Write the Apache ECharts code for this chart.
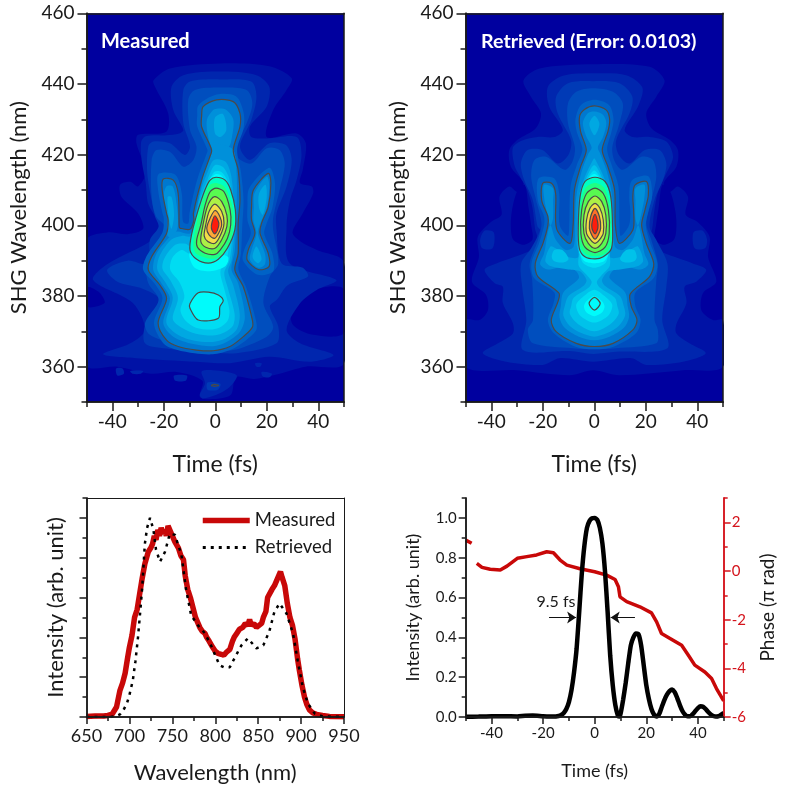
<!DOCTYPE html>
<html>
<head>
<meta charset="utf-8">
<title>FROG traces</title>
<script src="https://cdn.jsdelivr.net/npm/echarts@6/dist/echarts.min.js"></script>
<style>
  html, body { margin: 0; padding: 0; background: #fff; }
  #main { width: 785px; height: 791px; }
</style>
</head>
<body>
<div id="main"></div>
<script>
// colour of each contour band, low to high
var bandColors = ['#00009f', '#0012a6', '#0026ae', '#003ab6', '#004ebe', '#0062c6', '#0078d0', '#0090da', '#00a8e2', '#00c2ea', '#00dcf2', '#00fbfb', '#00ffc4', '#20ff84', '#58fa50', '#acf046', '#f4dc48', '#ffa838', '#ff7028', '#ff1c0c'];

var timeMajor = [-40, -20, 0, 20, 40];
var timeMinor = [-50, -30, -10, 10, 30, 50];
var shgMajor = [360, 380, 400, 420, 440, 460];
var shgMinor = [350, 370, 390, 410, 430, 450];
var wlMajor = [650, 700, 750, 800, 850, 900, 950];
var wlMinor = [675, 725, 775, 825, 875, 925];
var specMajor = [0, 0.2, 0.4, 0.6, 0.8, 1.0];
var specMinor = [0.1, 0.3, 0.5, 0.7, 0.9, 1.1];
var phaseMajor = [-6, -4, -2, 0, 2];
var phaseMinor = [-5, -3, -1, 1, 3];

// --- measured trace, contour lines as [time, wavelength]
var mMain = [[0.5,435.5],[7,435],[9.6,431.7],[9.6,427.9],[7,421.3],[8.9,415.7],[9.6,407.2],[8.9,400.6],[8.9,392],[7.6,387.4],[10.9,382.6],[14.1,374.2],[14.5,371.3],[10.9,368.5],[5.7,365.7],[-0.8,364.5],[-7.3,364.7],[-14.4,365.7],[-18.9,367.5],[-22.2,372.3],[-18.9,379.3],[-21.5,383.1],[-26,387.4],[-24.7,391.1],[-18.9,397.7],[-18.3,401.5],[-18.9,403.4],[-20.6,410],[-20.2,413.1],[-16.3,412.8],[-14.4,409],[-14,399.6],[-13.7,399.2],[-9.8,398.9],[-8.3,401.5],[-8.5,403.4],[-5.3,412.8],[-2.1,419.4],[-1.4,421.3],[-5.3,427.9],[-5.3,430.8],[-4.7,433.6]];
var mRightLobe = [[14.1,405.3],[14.8,410],[20.6,414.7],[21.6,411.9],[20.6,405.3],[18,400.6],[17.4,397.7],[20.6,392],[20.9,388.3],[16.7,387.5],[12.4,390.2],[12.8,393],[15.4,397.7],[14.1,401.5]];
var mBlob = [[-9.8,377.9],[-6.6,380.9],[-2.7,381.1],[1.2,380.3],[3.1,378.7],[1.8,377],[1.2,373.7],[-6.6,373.2],[-9.8,376.5]];
var mLineA = [[0.3,413.6],[3.8,412.8],[6,410],[7.8,404.4],[7.6,398.7],[4.7,393.5],[1.2,390.4],[-2.7,389.3],[-7.2,390.4],[-9.8,393],[-9.1,397.7],[-6.6,404.4],[-4,410],[-2,412.8]];
var mLineB = [[0.3,410.5],[3.4,409.5],[5.8,404.3],[6,400.1],[4.7,396.3],[1.9,393],[-0.1,391.8],[-3.9,392.1],[-6.9,393.8],[-7.2,395.9],[-5.6,400.1],[-3.9,405.8],[-2,409.5]];
var mLineC = [[-0.1,408.1],[2.5,406.7],[4.5,402.9],[4.5,399.6],[2.5,395.9],[-0.1,393.5],[-3.7,393.8],[-5.6,395.4],[-5,399.2],[-3.3,404.8],[-1.8,407.2]];
var mLineD = [[-0.1,406],[2.5,403.9],[3.4,400.6],[2.1,397.3],[-0.1,394.9],[-2.9,395.4],[-4.3,397],[-3.7,400.1],[-2.4,403.9]];
var mLineE = [[-0.1,404.2],[1.9,402.3],[2.5,400.1],[1.2,397.6],[-0.3,396.3],[-2.4,397.3],[-3.3,399.2],[-2,402]];
var mLineF = [[-0.1,402.7],[1.4,400.6],[0.8,398.5],[-0.3,397.6],[-1.5,399.2],[-1.2,401]];
var mSpot = [[-1.5,354.7],[-0.3,355],[1.3,354.7],[-0.3,354.4]];
var measuredLines = [mMain, mRightLobe, mBlob, mLineA, mLineB, mLineC, mLineD, mLineE, mLineF, mSpot];

// [band, outline] painted in this order
var measuredFills = [
  [1, [[-24,441],[-17.6,444.4],[1.8,445.8],[21,445],[29.7,441.6],[27.7,438.3],[22.5,432.6],[20,425],[31.6,426],[35.2,423.2],[34,415.7],[32.9,412],[37.5,411],[38,409],[34,403.4],[30,398],[33,395.5],[39.5,393],[50,389.5],[50,361],[35,360],[25,358],[15,356.5],[8,357],[6,352],[-2,350.8],[-6,351.5],[-5,356],[-15,358.5],[-25,358],[-38,360],[-50,360.5],[-50,395.8],[-42,398],[-34,397.5],[-28,399],[-30,403.4],[-36.4,408],[-37,411.4],[-33,412.3],[-30,411],[-27,415],[-30.6,423.2],[-30,425.6],[-19,426.5],[-18.3,431.7],[-23.4,439.2]]],
  [0, [[30,378],[36,381.5],[50,382],[50,369.5],[38,369],[30,372]]],
  [0, [[-50,382.5],[-45,381],[-43,378],[-50,377]]],
  [2, [[-38.5,359.5],[-36,359.5],[-35.5,358],[-38,357.5]]],
  [2, [[-33,358.8],[-28,358.8],[-29,358],[-32,358]]],
  [2, [[-16,357.5],[-11,357.5],[-11.5,356],[-15.5,356]]],
  [2, [[18,358.5],[22,358],[21,357],[18.5,357.2]]],
  [2, [[15.5,361],[18,361],[17.5,360],[16,360]]],
  [2, [[-5.3,358.6],[-0.8,359],[8.3,357.6],[5.7,354.3],[1.8,352.5],[-4.7,351],[-6,352],[-4,355.3]]],
  [3, [[-3,355.5],[2,355.2],[1,353.5],[-3,353.5]]],
  [2, [[-17,439.2],[-12.4,442.5],[1.8,443.5],[16,442.5],[21,439.2],[20,433.6],[13.5,428],[14,425],[20,424.6],[31.6,425],[33.5,420],[31.6,412.8],[29,407],[27.7,399.6],[29,389.2],[47,384.5],[39.4,381.7],[33,378],[27.7,370.4],[33,366.6],[45.9,363.3],[36.8,361.4],[21,362.8],[5.7,361],[-7.3,361.4],[-30.6,362.4],[-43.5,363.5],[-33,366.6],[-27.3,370.4],[-32,378],[-47.4,384.5],[-42,389],[-24.7,395.8],[-21.5,399.6],[-26,406],[-27,412],[-28.5,418],[-28.8,423.5],[-27,425.2],[-19,425.5],[-14,426],[-12.4,427],[-16.3,432.6]]],
  [3, [[-12.4,438.3],[-9.8,440.7],[1.8,441.3],[14,440.7],[16,436.4],[14,429.8],[9.6,422.3],[13.5,418.5],[21,423.2],[27.5,422.7],[29.7,418.5],[27.7,411],[23.8,403.4],[23.8,398.7],[25.8,389.2],[34,388],[36,385.5],[28,383],[24,379],[21.2,377],[24.5,371.3],[23.8,366.6],[8.3,363.8],[-4.7,364.2],[-17.6,365],[-27.3,366.6],[-26.7,373.2],[-21.5,378.9],[-28,382],[-38,384],[-42,387.4],[-34,390],[-26,389],[-25.4,395.8],[-22,399.6],[-23.4,402.5],[-24.7,407],[-26.4,414.7],[-26,422.3],[-24,423.7],[-17.6,423.2],[-11.8,419.9],[-9.8,422.3],[-12.4,428.9]]],
  [4, [[-10.5,435.5],[-7.9,438.3],[1.8,439],[12.2,438.3],[14.4,434.5],[12.2,428.9],[7.6,422.3],[8.3,419.4],[14,417.5],[20,421.8],[25,421.3],[27,417.5],[25,410],[22.5,402.2],[22.5,398.7],[24.5,389.2],[21.2,385.5],[18.7,378],[22.5,371.3],[20,368.5],[7,364.7],[-4.7,364.7],[-16.3,366.6],[-25.4,369],[-27.3,372.3],[-22,378.9],[-26,383.6],[-26.7,387.8],[-23.4,394],[-19.6,399.6],[-23,402.5],[-24.7,408],[-24.7,418.5],[-22.8,421.3],[-17.6,420.8],[-12.4,416.6],[-8.5,418.5],[-7.3,422.3],[-9.8,427]]],
  [5, [[0.5,437],[8,436.5],[11,432],[11,427.5],[8.5,421.5],[10,415],[11,407],[10.5,400],[10,392],[9,387.5],[12,382.5],[15.5,374],[16,370.5],[12,367.5],[6,364.8],[-1,363.5],[-8,363.8],[-15,364.8],[-20,366.5],[-23.8,372.3],[-20.5,379.3],[-23,383],[-28,387.4],[-26.5,391.5],[-20.5,398],[-20,402],[-20.5,403.4],[-22.2,410],[-22,414.5],[-15.5,414.3],[-13,409],[-12.5,401],[-10.5,400.5],[-10,403.5],[-7,413],[-3.5,420],[-3,421.3],[-7,428],[-7,431],[-6.5,434]]],
  [5, [[12.5,405.3],[13.2,410.5],[21,416.3],[23.2,412],[22.2,405],[20,400.6],[19,397.7],[22.2,392],[22.5,387],[16.5,386],[10.8,390],[11.2,393],[13.8,397.7],[12.5,401.5]]],
  [6, mMain],
  [6, mRightLobe],
  [7, [[0.5,433],[4,432.8],[7,430],[6.5,425],[5,422],[-1,422],[-3,426],[-3.2,430],[-1,432.5]]],
  [7, [[-19,411],[-16.5,411],[-15,406],[-14.5,400],[-16,397],[-18.5,397],[-18.5,402],[-20,408]]],
  [7, [[15.2,409],[20,413.8],[21,411],[20,405],[17.4,400.4],[16.5,397.7],[19.3,392],[19.3,389],[16.7,388],[13.5,390.2],[14.1,393],[16,397.7],[14.8,401.5],[15,405]]],
  [7, [[-1.4,423.2],[2,423],[7,421.3],[8.3,414.8],[8.3,404.4],[7.6,393],[6.3,387.4],[8.9,383.6],[11.5,374.2],[9.6,369.9],[4.4,367],[-0.8,365.8],[-8.5,366.4],[-16.3,368.5],[-20.2,372.3],[-17.6,379.3],[-20.9,383.6],[-24.1,387.4],[-22.8,392],[-17.6,396.8],[-15,398.2],[-9.8,397.7],[-8.3,401.5],[-6.6,407.2],[-4,415.7],[-1.4,420.4]]],
  [8, [[-0.1,430.5],[3,431.5],[4.3,427],[2,425],[-0.1,426]]],
  [8, [[17,409],[19.5,411.5],[20,408],[18.5,403],[17,405]]],
  [8, [[-18.5,408],[-17,408],[-16,403],[-17,399],[-18,402]]],
  [8, [[16,394],[18,390.5],[16.5,389.3],[14.5,391]]],
  [8, [[-0.5,418.5],[4,418],[6.2,414],[7.2,405],[7.2,396],[6.3,390],[5,387],[7,383],[9.5,375],[8.3,370.5],[4,368],[-1,367],[-8,367.3],[-14.5,369],[-19,372.5],[-16.5,379.5],[-19.5,384],[-22.5,387.5],[-21.5,391.5],[-17,396],[-13,397],[-9.5,397],[-7.5,403],[-5.5,410],[-3,415]]],
  [9, [[-0.2,417],[3,416.5],[5.5,413],[6.5,405],[6.5,396],[5.5,390],[3.5,386.5],[5,382],[7.5,375],[6.8,371.5],[3,369.5],[-1,368.8],[-7.5,369.3],[-13,371],[-16.5,373.5],[-14.5,379.5],[-17.5,384.5],[-20.5,387.8],[-19.5,391],[-15.5,394.5],[-11.5,394.8],[-9.5,394],[-7.5,400],[-6,407],[-3,413]]],
  [10, [[-0.2,415.2],[2.5,415],[5,412],[5.8,405],[5.5,396],[4.5,390.5],[2,387],[3.5,382],[5.5,376],[4.8,373],[1.5,371],[-2,370.5],[-7.5,371],[-11.5,373],[-13.5,376],[-12,380],[-14,384],[-17.5,387.5],[-16.5,391],[-13,393],[-10.3,392],[-9.3,392.5],[-7.5,398],[-6,405],[-3,411.5]]],
  [11, mBlob],
  [11, [[-10,392],[-8,388],[-2,387],[4,388.5],[5,391],[0,392],[-5,392]]],
  [11, [[0.2,414.5],[2.5,414],[4,411],[2,410],[-1.5,410],[-2.5,412.5]]],
  [12, mLineA],
  [13, [[0.3,412],[3.5,411],[5.5,408],[7,404.3],[7,399.5],[5.8,395],[3,391.8],[0,390.6],[-3.2,390.7],[-7.5,392],[-8.5,394.2],[-8,398],[-6,404.5],[-3.8,409.5],[-2,411.5]]],
  [14, mLineB],
  [15, mLineC],
  [16, mLineD],
  [17, mLineE],
  [19, mLineF]
];

// --- retrieved trace
var rMain = [[0.1,433.8],[4.7,432.6],[6,429.8],[5.3,426.5],[3.1,421.3],[5.3,416.6],[7.9,410],[8.2,400],[9.8,394.9],[15,398.7],[15.3,404],[15,408],[15.8,411.4],[20.3,412.4],[21,408.5],[19.7,404.4],[18.4,400],[20.2,394.9],[23.1,389.2],[21.5,385.5],[14,380.6],[14.4,377],[16.6,373.2],[15,370.4],[7.3,366.6],[0.1,365.7],[-7,366.6],[-14.8,369.9],[-16.7,373.2],[-14.1,378.4],[-13.7,380.8],[-21.9,385.5],[-22.9,389.2],[-19.9,394.9],[-18,400],[-18,402.5],[-20.4,407],[-20,411.9],[-16.6,411.9],[-15,409],[-14.6,399],[-9.4,394.9],[-8.2,400],[-7.7,410],[-5.3,416.6],[-3.1,421.3],[-5.3,426.5],[-5.7,430.8],[-3.8,432.8]];
var rBlob = [[0.1,379.6],[2.3,377.9],[0.1,376],[-2,377.9]];
var rLineA = [[0.3,413.6],[4.2,412.4],[6.4,408.1],[7.1,399.6],[6.7,393.5],[3.5,391.1],[0.3,390.5],[-3.6,391.1],[-5.8,393.5],[-6.2,399.6],[-5.5,408.1],[-3.6,412.4]];
var rLineB = [[0.3,410.5],[3.5,409],[5.5,404.3],[5.8,397.7],[4.2,393.8],[0.3,392.3],[-3.6,393.8],[-5.2,397.7],[-4.9,404.3],[-3,409]];
var rLineC = [[0.3,408.3],[2.9,406.7],[4.5,402.9],[4.5,397.7],[2.9,394.9],[0.3,393.5],[-2.3,394.9],[-4,397.7],[-4,402.9],[-2.3,406.7]];
var rLineD = [[0.3,406.2],[2.2,404.8],[3.5,401.5],[3.5,397.7],[2,395.9],[0.3,394.9],[-1.4,395.9],[-3,397.7],[-3,401.5],[-1.7,404.8]];
var rLineE = [[0.3,404.8],[2,402.5],[2.5,399.2],[1.6,397.3],[0.3,396.1],[-1,397.3],[-1.9,399.2],[-1.4,402.5]];
var rLineF = [[0.3,403.1],[1.3,401],[1.4,399.2],[0.3,397.6],[-0.9,399.2],[-0.8,401]];
var retrievedLines = [rMain, rBlob, rLineA, rLineB, rLineC, rLineD, rLineE, rLineF];

var retrievedFills = [
  [1, [[-27.5,441],[-21.2,444.4],[-0.5,445.6],[21.5,444.9],[27.3,441],[24.1,436.4],[20.2,431.7],[22.2,427.5],[29.3,424.2],[32.5,421.3],[31.9,416.6],[27,412],[29.3,409.5],[32.5,411],[36.4,408.1],[35.5,403],[40,401],[44.8,396.8],[44.2,391],[47.4,384],[42.2,380.8],[41.6,376],[46.1,373.2],[50,373.2],[50,360],[34.5,359],[9.8,357.6],[-0.5,359],[-9.6,357.6],[-30.3,359],[-50,360],[-50,373.2],[-44.6,373.2],[-41.3,376],[-42,380.3],[-47.5,384],[-44.8,391],[-45.2,396.8],[-40,401],[-36,403],[-36.8,408.1],[-33,411],[-29.8,409.5],[-27.5,412],[-32.4,416.6],[-33,421.3],[-29.8,424.2],[-22.7,427.5],[-20.7,431.7],[-24.6,436.4]]],
  [0, [[26.5,411.5],[29.5,409.5],[31.5,404],[31.9,399.5],[31,396],[27,394.5],[23.5,396],[24,400],[25,405]]],
  [0, [[-27,411.5],[-30,409.5],[-32,404],[-32.4,399.5],[-31.5,396],[-27.5,394.5],[-24,396],[-24.5,400],[-25.5,405]]],
  [2, [[38.5,398],[42,398.5],[43.8,396],[43,393.5],[39,393.5]]],
  [2, [[-39,398],[-42.5,398.5],[-44.3,396],[-43.5,393.5],[-39.5,393.5]]],
  [2, [[-18,439.2],[-12.2,442.3],[-0.5,443],[12.4,442.5],[18.7,439],[17,433.6],[11.8,427],[15,425],[21.5,425],[28,423.7],[30.6,419.4],[28,414.7],[25,410],[23.5,405],[22.5,399],[21.5,395.8],[24.7,393],[38.3,389.2],[43.5,387.4],[39.6,384],[35.1,382.6],[35.8,378],[31.9,372],[31.9,369.4],[37,366.6],[43.3,363.8],[34.5,361.4],[20.2,360.5],[14.4,362.4],[-0.5,361.4],[-13.5,362.4],[-20,360.5],[-34.2,361.4],[-43.3,363.8],[-37.4,366.6],[-31.6,369.4],[-31.6,372.3],[-35.5,378],[-35.5,382.6],[-38.7,383.6],[-42.6,387.4],[-38,389.2],[-24.5,393],[-22,395.8],[-23,399],[-24,405],[-26,410],[-29,414],[-31,417],[-31.6,422],[-28,424],[-22,425],[-15.5,425],[-12.2,427],[-17.5,433.6]]],
  [3, [[-14.8,436.4],[-10.2,440.2],[-0.5,440.8],[9.8,440.2],[14.8,436.4],[13.7,431.7],[8.5,424],[9.5,420],[13.7,417.5],[19.6,421.3],[25.4,421.3],[28,417.5],[26.7,412.8],[23.4,407.2],[21.5,399.6],[24,396],[28.4,389.2],[28,382.6],[26.4,373.2],[28.4,365.2],[8.5,364.2],[-0.5,363.6],[-9.6,364.4],[-27.7,364.7],[-26.4,373.2],[-28,382.6],[-28.4,389.2],[-24.5,393.5],[-21,398.7],[-22,399.6],[-23.9,407.2],[-27.2,412.8],[-28.5,417.5],[-25.9,421.3],[-20.1,421.3],[-14.2,417.5],[-10,420],[-9,424],[-14.2,431.7]]],
  [4, [[-10.2,434.5],[-7,437.8],[-0.5,438.8],[7.3,437.8],[11.1,434.5],[9.8,428.9],[7,422],[8,418],[11.1,415.7],[18.3,419.4],[22.8,418.5],[24.1,413.8],[22.2,407.2],[20.2,400.6],[22.2,395.8],[24.7,389.2],[24.1,384.5],[23.4,373.2],[24.7,370.4],[24.1,366.6],[8.5,365.2],[-0.1,364.9],[-8.3,365.2],[-23.8,366.6],[-25.8,370.4],[-23.8,373.2],[-24.1,384.5],[-25.1,389.2],[-21.9,395.8],[-20.5,400.6],[-22.6,407.2],[-24.5,413.8],[-23.2,418.5],[-18.7,419.4],[-11.5,415.7],[-8.5,418],[-7.5,422],[-10.2,428.9]]],
  [5, [[0.1,435.5],[5.8,434],[7.5,430],[6.7,426.5],[5,421.5],[6.8,417],[9.4,411],[9.8,400.5],[10.3,397],[13.5,400],[14,404],[13.6,408],[14.6,412.7],[21,413.9],[22.5,408.5],[21.2,404.4],[20,400],[21.7,395],[24.5,389.2],[23,385],[16,381],[16,377],[18,373.2],[16.3,369.5],[8,365.8],[0.1,364.9],[-7.8,365.8],[-15.8,369.5],[-18,373.2],[-15.8,378],[-15.5,381],[-23.3,385],[-24.4,389.2],[-21.4,395],[-19.5,400],[-19.5,402.5],[-21.9,407],[-21.6,413.3],[-15.6,413.3],[-13.6,409],[-13.4,400],[-10.2,397],[-9.7,400.5],[-9.2,411],[-6.8,417],[-4.6,421.5],[-6.8,426.5],[-7.3,430],[-5.2,434]]],
  [6, rMain],
  [7, [[0.1,432.2],[3.4,431.3],[4.7,428.9],[3.4,425],[1.4,422],[2.5,420],[5,415],[7,408],[7.5,400],[8,394],[11,393],[15,396],[17,400],[18,398],[19.5,392],[21,389],[18,387.5],[11,388.5],[7,387],[6,385],[12,381],[13,377],[13.5,374],[11.5,371],[6,368.5],[0,367.5],[-6,368.5],[-11.5,371],[-13.5,374],[-13,377],[-12,381],[-6,385],[-7,387],[-11,388.5],[-18,387.5],[-21,389],[-19.5,392],[-18,398],[-17,400],[-15,396],[-11,393],[-8,394],[-7.5,400],[-7,408],[-5,415],[-2.5,420],[-1,422],[-3,425],[-4.4,428.9],[-2.5,431.7]]],
  [7, [[16,410.5],[19.5,411.5],[19.5,408],[18.5,404],[17,400],[16,402],[16,407]]],
  [7, [[-16,410.5],[-19.5,411.5],[-19.5,408],[-18.5,404],[-17,400],[-16,402],[-16,407]]],
  [8, [[0.1,431],[2,428.7],[0.1,425.5],[-1.9,428.7]]],
  [8, [[0.5,418.5],[3.5,414],[6,408],[6.6,400],[6.8,394.5],[6,391],[10,391],[15,393.5],[17,394],[19,390],[17,388.5],[10,387.5],[5.5,387],[3,384.5],[4,383],[10,380],[11.5,377],[12,374.5],[9.5,371.5],[5,369.5],[0,368.5],[-5,369.5],[-9.5,371.5],[-12,374.5],[-11.5,377],[-10,380],[-4,383],[-3,384.5],[-5.5,387],[-10,387.5],[-17,388.5],[-19,390],[-17,394],[-15,393.5],[-10,391],[-6,391],[-6.8,394.5],[-6.6,400],[-6,408],[-3.5,414],[-0.5,418.5],[0,419]]],
  [9, [[0,417],[3,413.5],[5.5,407],[6,400],[6,392],[6,388.5],[3,386],[1,384],[2,382.5],[8,379.5],[9,377],[9.5,375],[7,372.5],[3.5,370.8],[0,370],[-3.5,370.8],[-7,372.5],[-9.5,375],[-9,377],[-8,379.5],[-2,382.5],[-1,384],[-3,386],[-6,388.5],[-6,392],[-6,400],[-5.5,407],[-3,413.5]]],
  [9, [[12.4,393],[15.5,393],[16.5,391],[15.5,389.8],[12,389.5],[10,390.5]]],
  [9, [[-12.4,393],[-15.5,393],[-16.5,391],[-15.5,389.8],[-12,389.5],[-10,390.5]]],
  [10, [[0,381.8],[4,380],[7,377.5],[5.5,374.5],[0,372.5],[-5.5,374.5],[-7,377.5],[-4,380]]],
  [10, [[0,415.5],[3,412.5],[5,407],[5.5,400],[5.5,393],[4.5,389.5],[0,388],[-4.5,389.5],[-5.5,393],[-5.5,400],[-5,407],[-3,412.5]]],
  [11, [[0,380],[3,378.5],[4,377],[3,375.3],[0,374.3],[-3,375.3],[-4,377],[-3,378.5]]],
  [11, [[0,414.5],[3.5,412],[5.5,407],[6,400],[6,393],[4,390],[0,389.3],[-4,390],[-6,393],[-6,400],[-5,407],[-3.5,412]]],
  [12, rLineA],
  [13, [[0.3,412],[3.8,410.7],[6,406],[6.5,399],[6.2,394],[3.8,391.8],[0.3,391.3],[-3.2,391.8],[-5.5,394],[-6,399],[-5.4,406],[-3.3,410.7]]],
  [14, rLineB],
  [15, rLineC],
  [16, rLineD],
  [18, rLineE],
  [19, rLineF]
];

// --- spectrum, [nm, intensity]
var measuredSpectrum = [[650,0.003],[660,0.005],[670,0.005],[675,0.008],[680,0.015],[685,0.05],[689,0.134],[692,0.17],[695,0.22],[698,0.30],[700,0.35],[703,0.41],[706,0.50],[709,0.54],[712,0.62],[715,0.70],[718,0.77],[720,0.80],[722,0.83],[725,0.85],[727,0.87],[729,0.91],[731,0.89],[733,0.94],[735,0.91],[737,0.95],[739,0.92],[741,0.94],[743,0.91],[745,0.96],[747,0.965],[749,0.92],[751,0.93],[753,0.88],[755,0.87],[757,0.85],[760,0.81],[763,0.79],[765,0.71],[768,0.64],[771,0.60],[774,0.55],[777,0.50],[780,0.47],[782,0.45],[785,0.43],[788,0.42],[790,0.40],[793,0.38],[797,0.35],[800,0.33],[803,0.32],[805,0.31],[807,0.315],[810,0.31],[813,0.325],[817,0.34],[820,0.38],[822,0.40],[825,0.42],[828,0.44],[830,0.43],[832,0.45],[835,0.47],[838,0.46],[840,0.49],[842,0.46],[845,0.47],[848,0.45],[851,0.46],[854,0.47],[856,0.50],[859,0.53],[861,0.60],[863,0.60],[866,0.64],[869,0.66],[871,0.67],[873,0.70],[876,0.73],[878,0.70],[881,0.66],[884,0.57],[887,0.50],[890,0.46],[893,0.39],[896,0.29],[898,0.235],[901,0.16],[904,0.10],[907,0.06],[910,0.034],[914,0.02],[918,0.013],[925,0.008],[933,0.003],[950,0.001]];
var retrievedSpectrum = [[650,0],[677,0],[684,0.004],[689,0.013],[693,0.035],[697,0.067],[700,0.11],[704,0.185],[707,0.28],[710,0.40],[713,0.55],[715,0.655],[717,0.80],[718,0.87],[720.6,0.95],[724,1.0],[728,0.94],[731,0.84],[735.7,0.78],[741.5,0.83],[747,0.92],[753,0.915],[760.6,0.815],[766,0.64],[772,0.51],[780,0.46],[788,0.42],[795,0.36],[805,0.26],[810,0.25],[817,0.25],[823,0.30],[830.5,0.36],[838,0.395],[848,0.345],[856,0.36],[863,0.43],[869,0.53],[875,0.57],[883,0.52],[890.6,0.42],[896,0.285],[902,0.15],[908,0.067],[916,0.017],[925,0.003],[950,0]];

// --- temporal pulse, [fs, intensity]
var pulseIntensity = [[-50,0.001],[-45,0.002],[-40,0.004],[-35,0.004],[-30,0.003],[-27,0.006],[-24,0.007],[-20,0.004],[-16,0.002],[-14,0.005],[-13,0.01],[-12,0.02],[-11,0.04],[-10,0.075],[-9,0.135],[-8,0.225],[-7,0.345],[-6,0.53],[-5,0.72],[-4,0.86],[-3,0.95],[-2,0.985],[-1,0.998],[0,1.0],[1,0.99],[2,0.95],[3,0.87],[4,0.73],[5,0.53],[6,0.31],[7,0.16],[8,0.06],[9,0.006],[9.5,0.002],[10,0.015],[11,0.085],[12,0.17],[13,0.27],[14,0.36],[15,0.40],[16,0.42],[17,0.415],[18,0.36],[19,0.26],[20,0.16],[21,0.09],[22,0.04],[23,0.012],[24,0.002],[25,0.015],[26,0.05],[27,0.085],[28,0.112],[29,0.13],[30,0.138],[31,0.125],[32,0.095],[33,0.06],[34,0.03],[35,0.012],[36,0.004],[37,0.004],[38,0.014],[39,0.03],[40,0.045],[41,0.054],[42,0.052],[43,0.04],[44,0.025],[45,0.013],[46,0.005],[47,0.002],[48,0.004],[49,0.012],[50,0.02]];
var pulsePhase = [[-50,1.27],[-47.7,1.14],[-46.5,null],[-45.7,0.31],[-43.7,0.15],[-40.5,0.07],[-36.6,0.04],[-34,0.2],[-30,0.52],[-26.3,0.59],[-22.5,0.66],[-18.6,0.79],[-16,0.75],[-13.4,0.45],[-10.8,0.24],[-5.7,0.09],[0,-0.03],[4.6,-0.17],[7.9,-0.35],[9.2,-0.65],[9.8,-1.06],[12.4,-1.26],[17.5,-1.47],[22,-1.72],[24,-2.09],[25.9,-2.57],[29.2,-2.77],[33.7,-3.05],[36.3,-3.46],[38.8,-3.87],[42.7,-4.15],[45.3,-4.42],[47.2,-4.83],[50,-5.34]];

var FONT = 'Lato';
var TEXT = '#1a1a1a';
var RED = '#c80808';
var AXIS_RED = '#d4141c';

var xAxes = [];
var yAxes = [];

function axis(gridIndex, position, range, o) {
  o = o || {};
  var color = o.color || '#1a1a1a';
  return {
    type: 'value',
    gridIndex: gridIndex,
    position: position,
    min: range[0],
    max: range[1],
    z: 5,
    scale: true,
    splitLine: { show: false },
    axisLine: { show: true, onZero: false, lineStyle: { color: color, width: o.lineWidth || 1.5 } },
    axisTick: o.ticks
      ? { show: true, length: o.tickLength, customValues: o.ticks, lineStyle: { color: color, width: 1.5 } }
      : { show: false },
    axisLabel: o.labels
      ? { show: true, customValues: o.labels, fontFamily: FONT, fontSize: o.fontSize, color: o.labelColor || TEXT, margin: o.margin, formatter: o.formatter }
      : { show: false },
    name: o.name,
    nameLocation: 'middle',
    nameGap: o.nameGap,
    nameRotate: o.nameRotate,
    nameTextStyle: { fontFamily: FONT, fontSize: o.nameSize, color: TEXT }
  };
}

// panel 0 and 1, the two traces
[0, 1].forEach(function (g) {
  xAxes.push(axis(g, 'bottom', [-50, 50], { ticks: timeMajor, tickLength: 9, labels: timeMajor, fontSize: 19, margin: 10, name: 'Time (fs)', nameGap: 51, nameSize: 23 }));
  xAxes.push(axis(g, 'bottom', [-50, 50], { ticks: timeMinor, tickLength: 5 }));
  xAxes.push(axis(g, 'top', [-50, 50]));
  yAxes.push(axis(g, 'left', [350, 460], { ticks: shgMajor, tickLength: 9, labels: shgMajor, fontSize: 19, margin: 12, name: 'SHG Wavelength (nm)', nameGap: 57, nameSize: 22 }));
  yAxes.push(axis(g, 'left', [350, 460], { ticks: shgMinor, tickLength: 5 }));
  yAxes.push(axis(g, 'right', [350, 460]));
});

// panel 2, spectrum
xAxes.push(axis(2, 'bottom', [650, 950], { ticks: wlMajor, tickLength: 7, labels: wlMajor, fontSize: 18, margin: 10, name: 'Wavelength (nm)', nameGap: 45, nameSize: 22 }));
xAxes.push(axis(2, 'bottom', [650, 950], { ticks: wlMinor, tickLength: 4 }));
xAxes.push(axis(2, 'top', [650, 950], { lineWidth: 1 }));
yAxes.push(axis(2, 'left', [0, 1.1], { ticks: specMajor, tickLength: 7, name: 'Intensity (arb. unit)', nameGap: 20, nameSize: 22 }));
yAxes.push(axis(2, 'left', [0, 1.1], { ticks: specMinor, tickLength: 4 }));
yAxes.push(axis(2, 'right', [0, 1.1], { lineWidth: 1 }));

// panel 3, pulse with phase on the right
xAxes.push(axis(3, 'bottom', [-50, 50], { ticks: timeMajor, tickLength: 7, labels: timeMajor, fontSize: 15, margin: 9, name: 'Time (fs)', nameGap: 45, nameSize: 18 }));
xAxes.push(axis(3, 'bottom', [-50, 50], { ticks: timeMinor, tickLength: 4 }));
yAxes.push(axis(3, 'left', [0, 1.1], { ticks: specMajor, tickLength: 7, labels: specMajor, fontSize: 15, margin: 9, formatter: function (v) { return v.toFixed(1); }, name: 'Intensity (arb. unit)', nameGap: 44, nameSize: 18 }));
yAxes.push(axis(3, 'left', [0, 1.1], { ticks: specMinor, tickLength: 4 }));
yAxes.push(axis(3, 'right', [-6, 3], { color: AXIS_RED, ticks: phaseMajor, tickLength: 7, labels: phaseMajor, fontSize: 15, margin: 8, labelColor: AXIS_RED, name: 'Phase (\u03c0 rad)', nameGap: 35, nameRotate: 90, nameSize: 19 }));
yAxes.push(axis(3, 'right', [-6, 3], { color: AXIS_RED, ticks: phaseMinor, tickLength: 4 }));

function traceSeries(xIndex, yIndex, fills, lines) {
  var shapes = fills.map(function (f) { return { fill: bandColors[f[0]], pts: f[1] }; })
    .concat(lines.map(function (l) { return { stroke: '#4a4a4a', pts: l }; }));
  return {
    type: 'custom',
    xAxisIndex: xIndex,
    yAxisIndex: yIndex,
    z: 2,
    silent: true,
    clip: true,
    animation: false,
    encode: { x: 0, y: 1 },
    data: shapes.map(function (s, i) { return [s.pts[0][0], s.pts[0][1], i]; }),
    renderItem: function (params, api) {
      var s = shapes[api.value(2)];
      return {
        type: 'polygon',
        shape: { points: s.pts.map(function (p) { return api.coord(p); }), smooth: 0.3 },
        style: s.fill ? { fill: s.fill } : { fill: 'none', stroke: s.stroke, lineWidth: 1.2 }
      };
    }
  };
}

var option = {
  animation: false,
  backgroundColor: '#fff',
  title: [
    { text: 'Measured', left: 96, top: 27, textStyle: { color: '#fff', fontFamily: FONT, fontWeight: 'bold', fontSize: 20 } },
    { text: 'Retrieved (Error: 0.0103)', left: 476, top: 27, textStyle: { color: '#fff', fontFamily: FONT, fontWeight: 'bold', fontSize: 19.7 } }
  ],
  grid: [
    { left: 86.5, top: 13.3, width: 257.5, height: 388.7, show: true, backgroundColor: bandColors[0], borderWidth: 0 },
    { left: 465.5, top: 13.3, width: 257.5, height: 388.7, show: true, backgroundColor: bandColors[0], borderWidth: 0 },
    { left: 86.5, top: 498, width: 257.5, height: 219 },
    { left: 465.7, top: 498, width: 258, height: 219 }
  ],
  legend: {
    left: 195,
    top: 506,
    orient: 'vertical',
    itemWidth: 47,
    itemHeight: 12,
    itemGap: 8,
    data: [
      { name: 'Measured', itemStyle: { opacity: 0 }, lineStyle: { width: 5.5 } },
      { name: 'Retrieved', itemStyle: { opacity: 0 }, lineStyle: { width: 3 } }
    ],
    textStyle: { fontFamily: FONT, fontSize: 18.5, color: TEXT }
  },
  xAxis: xAxes,
  yAxis: yAxes,
  series: [
    traceSeries(0, 0, measuredFills, measuredLines),
    traceSeries(3, 3, retrievedFills, retrievedLines),
    {
      name: 'Measured', type: 'line', xAxisIndex: 6, yAxisIndex: 6, data: measuredSpectrum,
      showSymbol: false, symbol: 'none', z: 3,
      lineStyle: { color: RED, width: 5.5 }, itemStyle: { color: RED }
    },
    {
      name: 'Retrieved', type: 'line', xAxisIndex: 6, yAxisIndex: 6, data: retrievedSpectrum,
      showSymbol: false, symbol: 'none', z: 4,
      lineStyle: { color: '#000', width: 2.5, type: [3, 5] }, itemStyle: { color: '#000' }
    },
    {
      name: 'Phase', type: 'line', xAxisIndex: 9, yAxisIndex: 11, data: pulsePhase,
      showSymbol: false, symbol: 'none', z: 3, connectNulls: false,
      lineStyle: { color: RED, width: 3.5 }
    },
    {
      name: 'Intensity', type: 'line', xAxisIndex: 9, yAxisIndex: 9, data: pulseIntensity,
      showSymbol: false, symbol: 'none', z: 4, smooth: 0.2,
      lineStyle: { color: '#000', width: 4.5 },
      markLine: {
        silent: true,
        symbol: ['none', 'arrow'],
        symbolSize: 9,
        label: { show: false },
        lineStyle: { color: '#111', width: 1, type: 'solid' },
        data: [
          [{ coord: [-17.7, 0.5] }, { coord: [-7.2, 0.5] }],
          [{ coord: [15.6, 0.5] }, { coord: [6.2, 0.5] }]
        ]
      },
      markPoint: {
        silent: true,
        symbol: 'circle',
        symbolSize: 0,
        label: { show: true, formatter: '9.5 fs', position: 'inside', fontFamily: FONT, fontSize: 16, color: TEXT },
        data: [{ coord: [-15, 0.58] }]
      }
    }
  ]
};

var myChart = echarts.init(document.getElementById('main'), null, { renderer: 'canvas' });
myChart.setOption(option);
</script>
</body>
</html>
